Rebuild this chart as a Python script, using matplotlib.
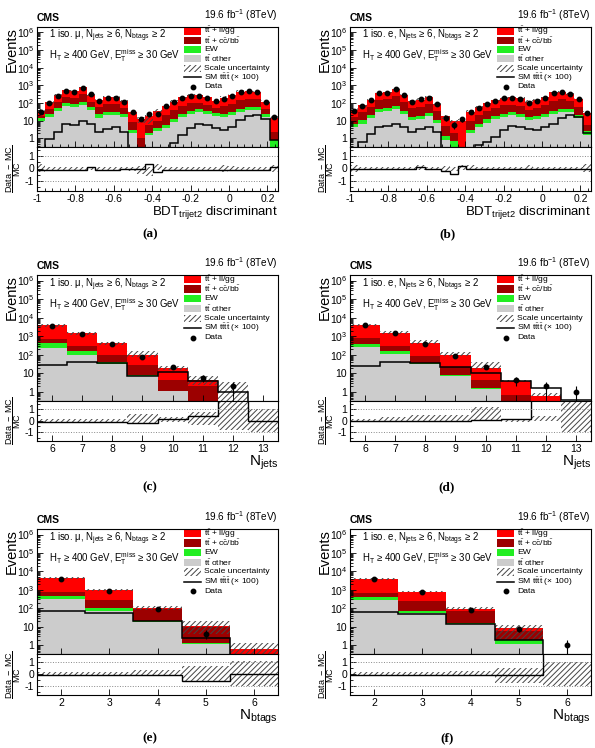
import numpy as np
import matplotlib
matplotlib.use("Agg")
import matplotlib.pyplot as plt
from matplotlib.patches import Rectangle
from matplotlib.ticker import LogLocator, NullFormatter, MultipleLocator

plt.rcParams['font.family'] = ['Liberation Sans', 'DejaVu Sans']
plt.rcParams['mathtext.fontset'] = 'custom'
plt.rcParams['mathtext.rm'] = 'Liberation Sans'
plt.rcParams['mathtext.it'] = 'Liberation Sans:italic'
plt.rcParams['mathtext.bf'] = 'Liberation Sans:bold'
plt.rcParams['hatch.linewidth'] = 0.7
plt.rcParams['axes.linewidth'] = 0.8

# ---------------- data ----------------
# (a) muon, BDT_trijet2, 29 bins
a_data = [30, 100, 260, 490, 430, 700, 330, 135, 200, 195, 120, 30, 13, 24, 25, 65, 112, 190, 265, 265, 190, 124, 172, 245, 410, 460, 410, 112, 17]
a_other = [9.5, 17, 34, 70, 60, 80, 39, 15, 22, 22, 17, 2, 0.2, 1.5, 2.5, 3.7, 8.7, 17, 25, 32, 25, 19, 17, 22, 32, 42, 42, 17, 0.3]
a_ew = [5, 8, 16, 32, 28, 38, 18, 8, 10, 10, 8, 0.9, 0.1, 0.6, 1.2, 1.8, 4, 8, 12, 15, 12, 9, 8, 10, 16, 20, 20, 8, 0.5]
a_ccbb = [5, 19, 64, 114, 100, 190, 63, 37, 56, 54, 27, 6.1, 0.7, 3.4, 6.3, 14.5, 27, 45, 63, 53, 38, 22, 40, 58, 102, 108, 98, 20, 1.5]
a_llgg = [14, 66, 171, 324, 282, 462, 180, 90, 132, 129, 78, 23, 12, 12, 26, 52, 83, 140, 190, 190, 135, 86, 125, 180, 300, 330, 290, 78, 12.7]
a_sm = [0.2, 0.97, 2.4, 6.5, 5.7, 9.5, 6.5, 2.4, 3.5, 4.7, 2.4, 0.2, 0.2, 0.2, 0.2, 0.25, 0.55, 1.6, 3.7, 6.2, 5.5, 3.7, 3.0, 4.7, 11, 18, 22, 13, 0.85]
a_up = [0.35, 0.15, 0.12, 0.1, 0.1, 0.1, 0.12, 0.12, 0.12, 0.12, 0.15, 0.15, 0.2, 0.15, 0.35, 0.15, 0.15, 0.12, 0.12, 0.12, 0.12, 0.15, 0.3, 0.2, 0.15, 0.12, 0.12, 0.15, 0.3]
a_dn = [0.3, 0.15, 0.12, 0.1, 0.1, 0.1, 0.12, 0.12, 0.12, 0.12, 0.15, 0.2, 0.4, 0.6, 0.1, 0.15, 0.12, 0.12, 0.12, 0.12, 0.12, 0.15, 0.25, 0.2, 0.15, 0.12, 0.12, 0.15, 0.3]

# (b) electron, BDT_trijet2
b_data = [37, 70, 150, 350, 380, 600, 275, 120, 180, 200, 85, 14, 6, 12, 30, 55, 90, 140, 190, 200, 180, 107, 140, 200, 380, 420, 330, 160, 26]
b_other = [4.4, 7, 14, 32, 35, 48, 24, 11, 13, 18, 7.5, 0.8, 0.3, 0.05, 2, 4.5, 8, 12, 17, 20, 17, 11, 12, 16, 25, 30, 30, 15, 1.5]
b_ew = [2.2, 3.5, 7, 16, 17, 24, 12, 5, 6, 9, 3.5, 0.6, 0.4, 0.05, 1, 2.2, 4, 6, 8, 10, 8, 5, 6, 8, 12, 15, 15, 7, 1]
b_ccbb = [9, 19.5, 42, 99, 108, 180, 80, 34, 44, 57, 25, 3.6, 1.3, 0.2, 7, 13.3, 23, 37, 50, 50, 45, 26, 34, 51, 103, 115, 80, 38, 3.5]
b_llgg = [23.4, 44, 95, 221, 240, 378, 174, 76, 94, 126, 53, 12.5, 8, 9.7, 22, 38, 60, 92, 125, 130, 120, 71, 95, 135, 260, 280, 222, 108, 21]
b_sm = [0.2, 0.65, 1.9, 4.4, 4.8, 7, 4.4, 2.4, 3.5, 4.4, 2.4, 0.2, 0.2, 0.2, 0.2, 0.45, 0.65, 1.2, 2.9, 5, 4.4, 3.5, 2.9, 4.4, 6.7, 14, 20, 16, 2]
b_up = [0.3, 0.15, 0.12, 0.12, 0.12, 0.1, 0.12, 0.15, 0.25, 0.15, 0.15, 0.2, 0.15, 0.3, 0.25, 0.15, 0.12, 0.12, 0.12, 0.12, 0.12, 0.3, 0.15, 0.12, 0.12, 0.12, 0.12, 0.15, 0.35]
b_dn = [0.25, 0.15, 0.12, 0.12, 0.12, 0.1, 0.12, 0.12, 0.1, 0.12, 0.15, 0.3, 0.2, 0.1, 0.15, 0.12, 0.12, 0.12, 0.12, 0.12, 0.12, 0.1, 0.12, 0.12, 0.12, 0.12, 0.12, 0.15, 0.25]

# (c) muon, N_jets = 6..13
c_data = [3600, 1350, 375, 78, 21, 6, 2, 0]
c_other = [245, 104, 33, 7, 1.15, 0.1, 0, 0]
c_ew = [180, 56, 6, 1, 0.05, 0.02, 0, 0]
c_ccbb = [285, 140, 65, 21, 3.1, 2.08, 0.25, 0]
c_llgg = [3390, 1230, 336, 71, 14.7, 2.0, 0, 0]
c_sm = [29, 39, 36, 7.1, 12.4, 3.9, 1.0, 0.1]
c_up = [0.14, 0.14, 0.14, 0.55, 0.28, 0.75, 12.6, 1.0]
c_dn = [0.2, 0.2, 0.2, 0.2, 0.14, 0.42, 0.85, 1.0]

# (d) electron, N_jets
d_data = [3900, 1470, 410, 92, 21.5, 4.3, 2, 1]
d_other = [270, 118, 32, 7, 1.5, 0.05, 0, 0]
d_ew = [140, 42, 4, 1, 0.1, 0.02, 0, 0]
d_ccbb = [365, 140, 56, 15, 3.0, 0.63, 0.1, 0]
d_llgg = [3325, 1250, 338, 74, 15.4, 3.2, 0.55, 0]
d_sm = [25, 41, 36, 21.5, 10, 3.9, 1.6, 0.37]
d_up = [0.1, 0.28, 0.47, 0.47, 1.2, 0.15, 0.4, 2.0]
d_dn = [0.1, 0.14, 0.08, 0.08, 0.08, 0.15, 0.08, 1.0]

# (e) muon, N_btags = 2..6
e_data = [3900, 880, 91, 4.2, 0]
e_other = [310, 74, 17, 1.2, 0]
e_ew = [160, 28, 2.6, 0.05, 0]
e_ccbb = [340, 188, 75, 8.5, 0.1]
e_llgg = [3340, 690, 6.4, 1.55, 0.53]
e_sm = [74, 55, 19.6, 2.5, 0.2]
e_up = [0.2, 0.15, 0.35, 0.7, 1.1]
e_dn = [0.12, 0.12, 0.2, 0.63, 1.0]

# (f) electron, N_btags
f_data = [3700, 720, 81, 7.8, 1]
f_other = [280, 56, 13.4, 1.13, 0]
f_ew = [110, 19, 2.6, 0.87, 0]
f_ccbb = [250, 185, 59, 3.6, 0]
f_llgg = [3360, 540, 15, 3.1, 0]
f_sm = [61, 50, 14.5, 2.0, 0.2]
f_up = [0.15, 0.15, 0.25, 0.5, 1.0]
f_dn = [0.1, 0.1, 0.1, 0.77, 1.0]

bdt_edges = np.linspace(-1.0, 0.255, 30)
jet_edges = np.arange(5.5, 14, 1.0)
btag_edges = np.arange(1.5, 7, 1.0)

col_llgg = '#ff0000'
col_ccbb = '#9c0000'
col_ew = '#22ee22'
col_other = '#cccccc'
col_hatch = '#444444'

legend_labels = [r't$\bar{\mathrm{t}}$ + ll/gg',
                 r't$\bar{\mathrm{t}}$ + c$\bar{\mathrm{c}}$/b$\bar{\mathrm{b}}$',
                 'EW',
                 r't$\bar{\mathrm{t}}$ other',
                 'Scale uncertainty',
                 r'SM t$\bar{\mathrm{t}}$t$\bar{\mathrm{t}}$ (× 100)',
                 'Data']

fig = plt.figure(figsize=(5.95, 7.48), dpi=100)
FW, FH = 595.0, 748.0


def ratio_of(data, total):
    r = np.zeros(len(data))
    for i in range(len(data)):
        if data[i] > 0 and total[i] > 0:
            r[i] = (data[i] - total[i]) / total[i]
        elif data[i] > 0:
            r[i] = 10.0
    return r


def panel(x0, rows, edges, other, ew, ccbb, llgg, sm, data, up, dn, lep,
          xlabel, xlfs, xticks, xticklabels, minor, tag, tagxy):
    top, mid, bot = rows
    W = 241
    ax = fig.add_axes([x0 / FW, 1 - mid / FH, W / FW, (mid - top) / FH])
    rx = fig.add_axes([x0 / FW, 1 - bot / FH, W / FW, (bot - mid) / FH], sharex=ax)
    other, ew, ccbb, llgg = map(np.asarray, (other, ew, ccbb, llgg))
    sm, data, up, dn = map(np.asarray, (sm, data, up, dn))
    floor = 1e-3

    # stacked MC
    low = np.zeros(len(other))
    for v, c in zip([other, ew, ccbb, llgg], [col_other, col_ew, col_ccbb, col_llgg]):
        high = low + v
        ax.stairs(np.maximum(high, floor), edges, baseline=np.maximum(low, floor),
                  fill=True, color=c, lw=0)
        low = high
    tot = low
    ax.stairs(np.maximum(tot * (1 + up), floor), edges,
              baseline=np.maximum(tot * (1 - dn), floor), fill=True,
              facecolor='none', edgecolor=col_hatch, hatch='//////', lw=0)
    ax.stairs(sm, edges, baseline=None, color='black', lw=1.1)
    cen = 0.5 * (edges[1:] + edges[:-1])
    m = data > 0
    ax.errorbar(cen[m], data[m], yerr=np.sqrt(data[m]), fmt='o', color='black',
                ms=3.2, lw=0.8, capsize=0)

    ax.set_yscale('log')
    ax.set_ylim(0.33, 2e6)
    ax.set_xlim(edges[0], edges[-1])
    ax.set_yticks([1, 10, 1e2, 1e3, 1e4, 1e5, 1e6],
                  ['1', '10', '$10^{2}$', '$10^{3}$', '$10^{4}$', '$10^{5}$', '$10^{6}$'])
    ax.yaxis.set_minor_locator(LogLocator(base=10, subs=np.arange(2, 10) * 1.0, numticks=30))
    ax.yaxis.set_minor_formatter(NullFormatter())
    ax.tick_params(which='both', direction='in', labelsize=7.5, pad=2, width=0.6)
    ax.tick_params(which='major', length=4.5)
    ax.tick_params(which='minor', length=2.5)
    ax.tick_params(axis='x', labelbottom=False)
    ax.set_ylabel('Events', fontsize=10.5, loc='top')
    ax.yaxis.set_label_coords(-0.075, 1.0)

    ax.text(0.0, 1.03, 'CMS', transform=ax.transAxes, fontsize=7.5,
            fontweight='bold', va='bottom')
    ax.text(1.0, 1.03, r'19.6 fb$^{-1}$ (8TeV)', transform=ax.transAxes,
            fontsize=7.2, ha='right', va='bottom')
    ax.text(0.05, 0.925, '1 iso. ' + lep + r', N$_{\mathrm{jets}}$ ≥ 6, N$_{\mathrm{btags}}$ ≥ 2',
            transform=ax.transAxes, fontsize=6.9, va='center')
    ax.text(0.05, 0.765, r'H$_{\mathrm{T}}$ ≥ 400 GeV, E$_{\mathrm{T}}^{\mathrm{miss}}$ ≥ 30 GeV',
            transform=ax.transAxes, fontsize=6.9, va='center')

    # legend drawn by hand
    lx, lw_, lh = 0.612, 0.07, 0.058
    ys = [0.965, 0.888, 0.811, 0.734, 0.657, 0.58, 0.503]
    for y, col in zip(ys[:4], [col_llgg, col_ccbb, col_ew, col_other]):
        ax.add_patch(Rectangle((lx, y - lh / 2), lw_, lh, transform=ax.transAxes,
                               facecolor=col, edgecolor='none'))
    ax.add_patch(Rectangle((lx, ys[4] - lh / 2), lw_, lh, transform=ax.transAxes,
                           facecolor='none', edgecolor=col_hatch, hatch='//////', lw=0))
    ax.plot([lx, lx + lw_], [ys[5], ys[5]], transform=ax.transAxes, color='black', lw=1.1)
    ax.plot([lx + lw_ / 2], [ys[6]], 'o', transform=ax.transAxes, color='black', ms=3.2)
    for y, t in zip(ys, legend_labels):
        ax.text(lx + lw_ + 0.012, y, t, transform=ax.transAxes, fontsize=6.1, va='center')

    # ratio panel
    r = ratio_of(data, tot)
    rx.stairs(up, edges, baseline=-dn, fill=True, facecolor='none',
              edgecolor=col_hatch, hatch='//////', lw=0)
    rx.axhline(1, ls=':', color='#888888', lw=0.7)
    rx.axhline(-1, ls=':', color='#888888', lw=0.7)
    rx.stairs(r, edges, baseline=None, color='black', lw=1.0)
    rx.set_ylim(-1.8, 1.72)
    rx.set_yticks([-1, 0, 1], ['-1', '0', '1'])
    rx.yaxis.set_minor_locator(MultipleLocator(0.5))
    rx.set_xticks(xticks, xticklabels)
    if minor:
        rx.xaxis.set_minor_locator(MultipleLocator(minor))
    rx.set_xlim(edges[0], edges[-1])
    rx.tick_params(which='both', direction='in', labelsize=7.5, pad=2, width=0.6)
    rx.tick_params(which='major', length=4.5)
    rx.tick_params(which='minor', length=2.5)
    rx.set_ylabel(r'$\dfrac{\mathrm{Data\ -\ MC}}{\mathrm{MC}}$', fontsize=6.5)
    rx.yaxis.set_label_coords(-0.06, 0.5)
    rx.set_xlabel(xlabel, fontsize=xlfs, loc='right', labelpad=0)

    fig.text(tagxy[0] / FW, 1 - tagxy[1] / FH, tag, ha='center', va='center',
             fontsize=9.5, fontweight='bold', family='Liberation Serif')


bdt_ticks = [-1, -0.8, -0.6, -0.4, -0.2, 0, 0.2]
bdt_labels = ['-1', '-0.8', '-0.6', '-0.4', '-0.2', '0', '0.2']
jet_ticks = [6, 7, 8, 9, 10, 11, 12, 13]
btag_ticks = [2, 3, 4, 5, 6]
bdt_xl = r'BDT$_{\mathrm{trijet2}}$ discriminant'
jet_xl = r'N$_{\mathrm{jets}}$'
btag_xl = r'N$_{\mathrm{btags}}$'

row1 = (27, 147, 191)
row2 = (275, 401, 441)
row3 = (529, 654, 695)

panel(37, row1, bdt_edges, a_other, a_ew, a_ccbb, a_llgg, a_sm, a_data, a_up, a_dn, 'μ',
      bdt_xl, 9.5, bdt_ticks, bdt_labels, 0.04, '(a)', (150, 234))
panel(350, row1, bdt_edges, b_other, b_ew, b_ccbb, b_llgg, b_sm, b_data, b_up, b_dn, 'e',
      bdt_xl, 9.5, bdt_ticks, bdt_labels, 0.04, '(b)', (447, 234))
panel(37, row2, jet_edges, c_other, c_ew, c_ccbb, c_llgg, c_sm, c_data, c_up, c_dn, 'μ',
      jet_xl, 11, jet_ticks, [str(t) for t in jet_ticks], None, '(c)', (150, 487))
panel(350, row2, jet_edges, d_other, d_ew, d_ccbb, d_llgg, d_sm, d_data, d_up, d_dn, 'e',
      jet_xl, 11, jet_ticks, [str(t) for t in jet_ticks], None, '(d)', (447, 487))
panel(37, row3, btag_edges, e_other, e_ew, e_ccbb, e_llgg, e_sm, e_data, e_up, e_dn, 'μ',
      btag_xl, 11, btag_ticks, [str(t) for t in btag_ticks], None, '(e)', (150, 738))
panel(350, row3, btag_edges, f_other, f_ew, f_ccbb, f_llgg, f_sm, f_data, f_up, f_dn, 'e',
      btag_xl, 11, btag_ticks, [str(t) for t in btag_ticks], None, '(f)', (447, 738))

fig.savefig('out.png', dpi=100)
